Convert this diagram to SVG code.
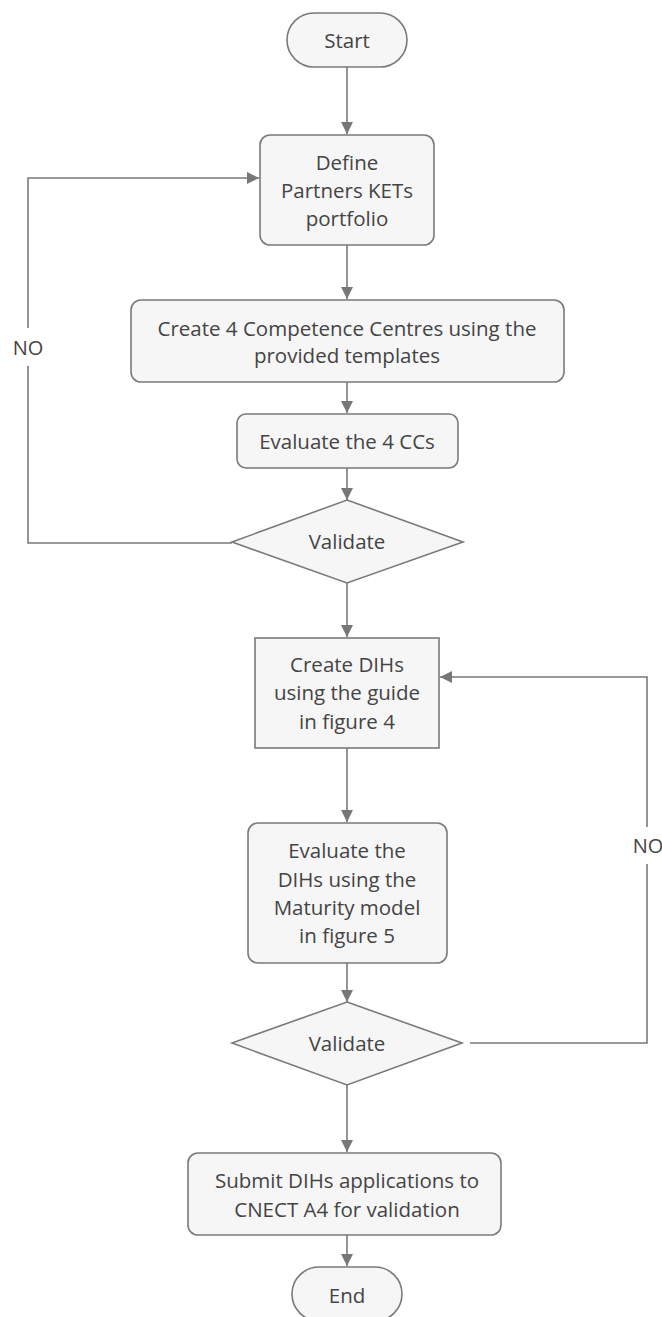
<svg xmlns="http://www.w3.org/2000/svg" width="662" height="1317" viewBox="0 0 662 1317">
<defs>
<marker id="ah" markerWidth="12" markerHeight="12" viewBox="0 0 12 12" refX="12" refY="6" orient="auto" markerUnits="userSpaceOnUse">
<path d="M0,0 L12,6 L0,12 Z" fill="#777"/>
</marker>
<style>
.n{fill:#f6f6f6;stroke:#7a7a7a;stroke-width:1.6}
.t{font-family:"Open Sans","Noto Sans","Liberation Sans",sans-serif;font-size:20.5px;fill:#444;text-anchor:middle}
.c{fill:none;stroke:#7a7a7a;stroke-width:1.6}
.l{font-family:"Open Sans","Noto Sans","Liberation Sans",sans-serif;font-size:20px;fill:#444;text-anchor:middle}
</style>
</defs>
<rect width="662" height="1317" fill="#fff"/>
<g id="connectors">
<line class="c" x1="347" y1="67" x2="347" y2="134" marker-end="url(#ah)"/>
<line class="c" x1="347" y1="245" x2="347" y2="299" marker-end="url(#ah)"/>
<line class="c" x1="347" y1="382" x2="347" y2="413" marker-end="url(#ah)"/>
<line class="c" x1="347" y1="468" x2="347" y2="500" marker-end="url(#ah)"/>
<line class="c" x1="347" y1="583" x2="347" y2="637" marker-end="url(#ah)"/>
<line class="c" x1="347" y1="748" x2="347" y2="822" marker-end="url(#ah)"/>
<line class="c" x1="347" y1="963" x2="347" y2="1002" marker-end="url(#ah)"/>
<line class="c" x1="347" y1="1085" x2="347" y2="1152" marker-end="url(#ah)"/>
<line class="c" x1="347" y1="1235" x2="347" y2="1266" marker-end="url(#ah)"/>
<polyline class="c" points="232,543 28,543 28,366"/>
<polyline class="c" points="28,328 28,178 259,178" marker-end="url(#ah)"/>
<text class="l" x="28" y="355">NO</text>
<polyline class="c" points="470,1043 647,1043 647,864"/>
<polyline class="c" points="647,827 647,677 440,677" marker-end="url(#ah)"/>
<text class="l" x="648" y="853">NO</text>
</g>
<g id="start">
<rect class="n" x="287" y="13" width="120" height="54" rx="27"/>
<text class="t" x="347" y="48">Start</text>
</g>
<g id="define">
<rect class="n" x="260" y="135" width="174" height="110" rx="10"/>
<text class="t" x="347" y="170">Define</text>
<text class="t" x="347" y="198">Partners KETs</text>
<text class="t" x="347" y="226">portfolio</text>
</g>
<g id="create-cc">
<rect class="n" x="131" y="300" width="433" height="82" rx="10"/>
<text class="t" x="347" y="336">Create 4 Competence Centres using the</text>
<text class="t" x="347" y="363">provided templates</text>
</g>
<g id="evaluate-cc">
<rect class="n" x="237" y="414" width="221" height="54" rx="9"/>
<text class="t" x="347" y="449">Evaluate the 4 CCs</text>
</g>
<g id="validate-1">
<polygon class="n" points="347,500 463,542 347,583 232,542"/>
<text class="t" x="347" y="549">Validate</text>
</g>
<g id="create-dih">
<rect class="n" x="255" y="638" width="184" height="110"/>
<text class="t" x="347" y="672">Create DIHs</text>
<text class="t" x="347" y="700">using the guide</text>
<text class="t" x="347" y="729">in figure 4</text>
</g>
<g id="evaluate-dih">
<rect class="n" x="248" y="823" width="199" height="140" rx="10"/>
<text class="t" x="347" y="858">Evaluate the</text>
<text class="t" x="347" y="887">DIHs using the</text>
<text class="t" x="347" y="915">Maturity model</text>
<text class="t" x="347" y="943">in figure 5</text>
</g>
<g id="validate-2">
<polygon class="n" points="347,1002 462,1043 347,1085 232,1043"/>
<text class="t" x="347" y="1051">Validate</text>
</g>
<g id="submit">
<rect class="n" x="188" y="1153" width="313" height="82" rx="10"/>
<text class="t" x="347" y="1188">Submit DIHs applications to</text>
<text class="t" x="347" y="1217">CNECT A4 for validation</text>
</g>
<g id="end">
<rect class="n" x="292" y="1267" width="110" height="54" rx="27"/>
<text class="t" x="347" y="1303">End</text>
</g>
</svg>
